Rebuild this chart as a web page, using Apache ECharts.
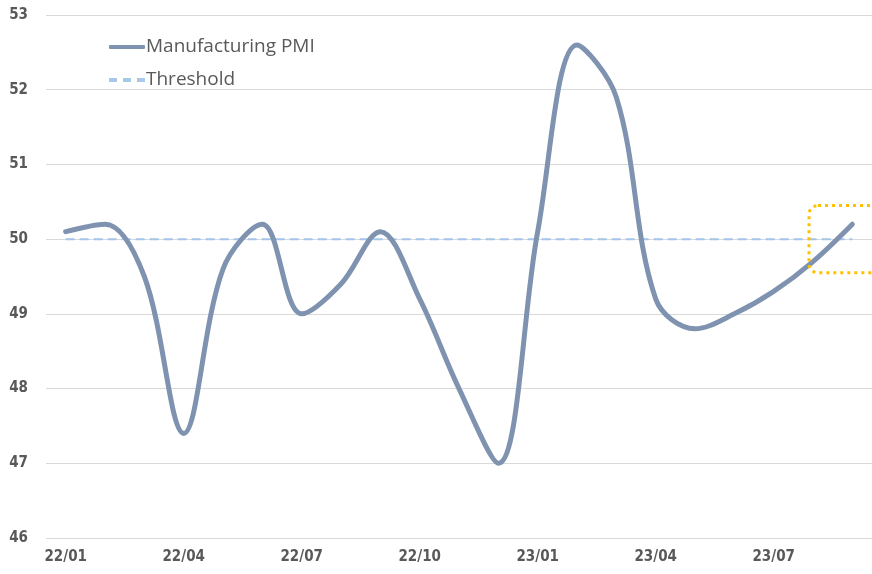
<!DOCTYPE html>
<html style="height: 100%">
<head>
	<meta charset="utf-8">
</head>
<body style="height: 100%; margin: 0; background: #fff">
<div id="container" style="width: 872px; height: 574px"></div>
<script type="text/javascript" src="https://cdn.jsdelivr.net/npm/echarts@6/dist/echarts.min.js"></script>
<script type="text/javascript">
    var months = ['22/01', '22/02', '22/03', '22/04', '22/05', '22/06', '22/07', '22/08', '22/09', '22/10', '22/11', '22/12',
        '23/01', '23/02', '23/03', '23/04', '23/05', '23/06', '23/07', '23/08', '23/09'];
    var pmi = [50.1, 50.2, 49.5, 47.4, 49.6, 50.2, 49.0, 49.4, 50.1, 49.2, 48.0, 47.0,
        50.1, 52.6, 51.9, 49.2, 48.8, 49.0, 49.3, 49.7, 50.2];
    var threshold = [50, 50, 50, 50, 50, 50, 50, 50, 50, 50, 50, 50, 50, 50, 50, 50, 50, 50, 50, 50, 50];
    var yTicks = [46, 47, 48, 49, 50, 51, 52, 53];

    var dom = document.getElementById("container");
    var myChart = echarts.init(dom);
    var labelFont = "'Liberation Sans Narrow', 'DejaVu Sans Condensed', sans-serif";

    var option = {
        backgroundColor: '#fff',
        animation: false,
        grid: {
            left: 46,
            right: 0,
            top: 15,
            bottom: 36
        },
        legend: {
            left: 104,
            top: 31,
            orient: 'vertical',
            itemGap: 11,
            itemWidth: 36,
            itemHeight: 4,
            textStyle: {
                color: '#595959',
                fontSize: 19,
                lineHeight: 22,
                fontFamily: "'Open Sans', sans-serif",
                padding: [0, 0, 0, -4]
            },
            data: [{
                name: 'Manufacturing PMI',
                icon: 'roundRect',
                itemStyle: {color: '#7f93b0'}
            }, {
                name: 'Threshold',
                icon: 'path://M0,0h8v4h-8z M14,0h8v4h-8z M28,0h8v4h-8z',
                itemStyle: {color: '#a9c8ea'}
            }]
        },
        xAxis: {
            type: 'category',
            data: months,
            boundaryGap: true,
            axisLine: {show: false},
            axisTick: {show: false},
            axisLabel: {
                interval: 2,
                margin: 12,
                color: '#595959',
                fontWeight: 'bold',
                fontSize: 15,
                fontFamily: labelFont
            }
        },
        yAxis: {
            type: 'value',
            min: yTicks[0],
            max: yTicks[yTicks.length - 1],
            interval: 1,
            axisLine: {show: false},
            axisTick: {show: false},
            axisLabel: {
                margin: 18,
                color: '#595959',
                fontWeight: 'bold',
                fontSize: 15,
                fontFamily: labelFont
            },
            splitLine: {lineStyle: {color: '#d9d9d9', width: 1}}
        },
        series: [{
            name: 'Manufacturing PMI',
            type: 'line',
            data: pmi,
            smooth: 0.35,
            symbol: 'none',
            z: 3,
            lineStyle: {color: '#7f93b0', width: 5, cap: 'round'},
            itemStyle: {color: '#7f93b0'}
        }, {
            name: 'Threshold',
            type: 'line',
            data: threshold,
            symbol: 'none',
            z: 2,
            lineStyle: {color: '#a4c4e8', width: 2, type: [9, 5]},
            itemStyle: {color: '#a9c8ea'}
        }]
    };
    myChart.setOption(option);

    // dotted highlight box around the latest reading
    var last = months.length - 1;
    var pTop = myChart.convertToPixel({xAxisIndex: 0, yAxisIndex: 0}, [last, 50.45]);
    var pLow = myChart.convertToPixel({xAxisIndex: 0, yAxisIndex: 0}, [last - 1, 49.55]);
    myChart.setOption({
        graphic: [{
            type: 'rect',
            shape: {x: pLow[0] - 4, y: pTop[1], width: 90, height: pLow[1] - pTop[1], r: 9},
            style: {fill: 'none', stroke: '#ffc000', lineWidth: 3, lineDash: [3, 4]},
            z: 10
        }]
    });

    window.addEventListener('resize', function () {
        myChart.resize();
    });
</script>
</body>
</html>
